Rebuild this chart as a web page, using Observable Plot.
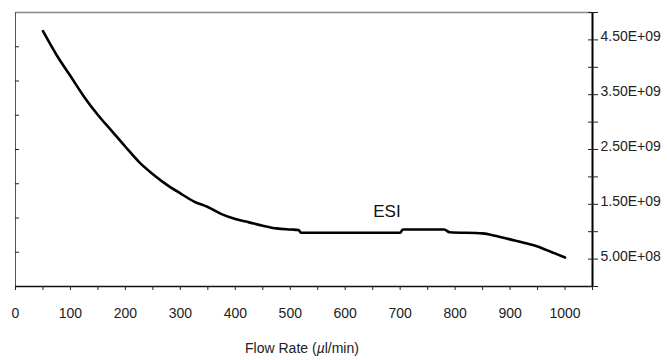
<!DOCTYPE html>
<html><head><meta charset="utf-8">
<script src="https://cdn.jsdelivr.net/npm/d3@7"></script>
<script src="https://cdn.jsdelivr.net/npm/@observablehq/plot@0.6"></script>
<style>body{margin:0;background:#fff}</style>
</head><body><div id="chart"></div>
<script>
// Flow rate (µl/min) and ESI signal
const flowRate = [50, 75, 100, 125, 150, 175, 200, 225, 250, 275, 300, 325, 350, 375, 400, 425, 450, 475, 500, 515, 520, 600, 700, 705, 780, 790, 850, 875, 900, 925, 950, 975, 1000];
const signal = [4.66e9, 4.22e9, 3.84e9, 3.46e9, 3.13e9, 2.84e9, 2.55e9, 2.27e9, 2.05e9, 1.86e9, 1.70e9, 1.55e9, 1.45e9, 1.32e9, 1.23e9, 1.17e9, 1.11e9, 1.06e9, 1.04e9, 1.03e9, 0.98e9, 0.98e9, 0.98e9, 1.04e9, 1.04e9, 0.99e9, 0.97e9, 0.92e9, 0.86e9, 0.80e9, 0.73e9, 0.63e9, 0.53e9];

const xDomain = [0, 1050];
const yDomain = [0, 5e9];
const xLabelTicks = [0, 100, 200, 300, 400, 500, 600, 700, 800, 900, 1000];
const xMinorTicks = [0, 50, 100, 150, 200, 250, 300, 350, 400, 450, 500, 550, 600, 650, 700, 750, 800, 850, 900, 950, 1000, 1050];
const rightTicks = [0, 5e8, 1e9, 1.5e9, 2e9, 2.5e9, 3e9, 3.5e9, 4e9, 4.5e9, 5e9];
const rightLabelTicks = [5e8, 1.5e9, 2.5e9, 3.5e9, 4.5e9];
const leftTicks = [6.25e8, 1.25e9, 1.875e9, 2.5e9, 3.125e9, 3.75e9, 4.375e9];
const annotations = [{text: "ESI", flow: 676, value: 1.36e9}];
const xTitle = ["Flow Rate (", "µ", "l/min)"];

const data = flowRate.map((f, i) => ({flow: f, value: signal[i]}));
const sci = d => {
  const [m, e] = d.toExponential(2).split("e");
  return m + "E" + e[0] + e.slice(1).padStart(2, "0");
};

const chart = Plot.plot({
  width: 667, height: 360,
  marginLeft: 15, marginRight: 75, marginTop: 12, marginBottom: 74,
  x: {domain: xDomain},
  y: {domain: yDomain},
  style: {fontFamily: "'Liberation Sans', Arial, sans-serif", fontSize: "14px", color: "#222", background: "#fff"},
  marks: [
    Plot.ruleY([yDomain[1]], {stroke: "#888", strokeWidth: 1.5}),
    Plot.ruleX([xDomain[0]], {stroke: "#555", strokeWidth: 1}),
    Plot.ruleY([yDomain[0]], {stroke: "#111", strokeWidth: 1.5}),
    Plot.ruleX([xDomain[1]], {stroke: "#000", strokeWidth: 2}),
    Plot.axisX(xMinorTicks, {tickSize: 4, tickFormat: () => "", label: null}),
    Plot.axisX(xLabelTicks, {tickSize: 0, tickPadding: 22, label: null, fontSize: 14, tickFormat: d => String(d)}),
    Plot.axisY(leftTicks, {anchor: "left", tickSize: 4, dx: 4, tickFormat: () => "", label: null}),
    Plot.axisY(rightTicks, {anchor: "right", tickSize: 10, dx: -5, tickFormat: () => "", label: null}),
    Plot.axisY(rightLabelTicks, {anchor: "right", tickSize: 0, tickPadding: 8, dy: -3, tickFormat: sci, label: null, fontSize: 14}),
    Plot.line(data, {x: "flow", y: "value", stroke: "#000", strokeWidth: 2.6, curve: "monotone-x"}),
    Plot.text(annotations, {x: "flow", y: "value", text: "text", fontSize: 17, fill: "#111"}),
    Plot.text([xTitle.join("")], {frameAnchor: "bottom", dy: 66, dx: -2, fontSize: 14, className: "xtitle"})
  ]
});
// italicise the µ in the axis title
const t = chart.querySelector(".xtitle text");
if (t) {
  t.textContent = "";
  xTitle.forEach((s, i) => {
    const ts = document.createElementNS("http://www.w3.org/2000/svg", "tspan");
    ts.textContent = s;
    if (i === 1) ts.setAttribute("font-style", "italic");
    t.appendChild(ts);
  });
}
document.getElementById("chart").appendChild(chart);
</script>
</body></html>
